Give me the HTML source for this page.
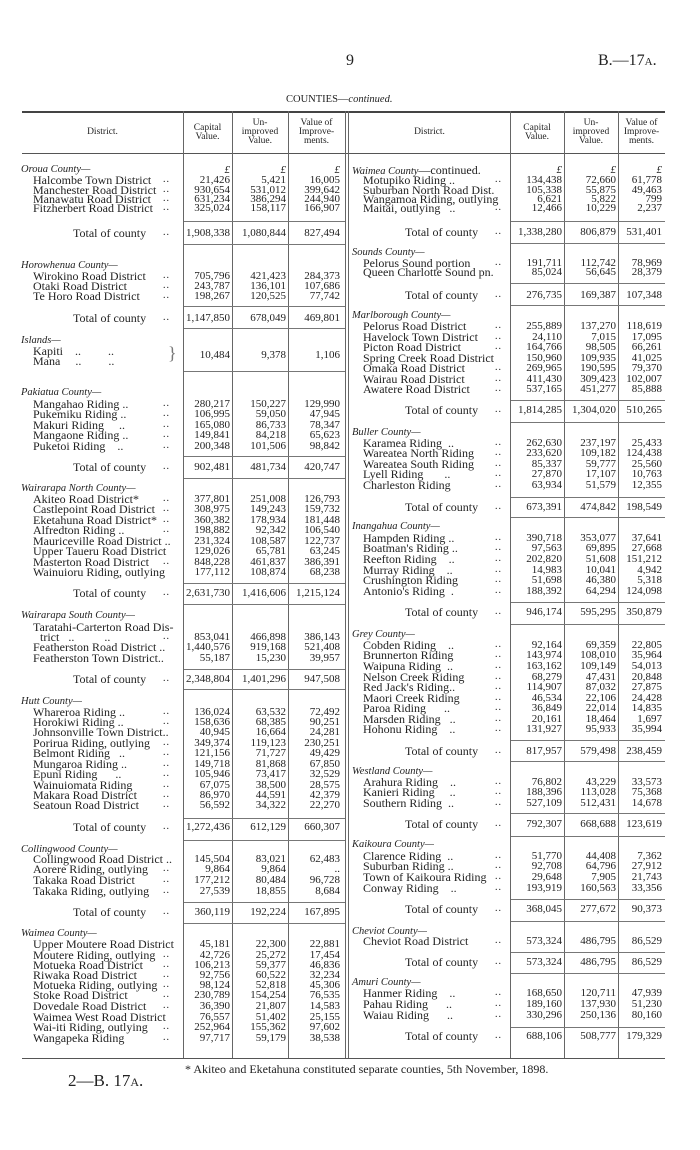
<!DOCTYPE html>
<html><head><meta charset="utf-8"><style>
html,body{margin:0;padding:0;background:#fff;}
body{width:700px;height:1150px;position:relative;overflow:hidden;font-family:"Liberation Serif",serif;color:#222;}
.a{position:absolute;white-space:nowrap;}
p{position:absolute;left:0;width:700px;height:12px;line-height:12px;margin:0;font-size:12px;}
p i{position:absolute;font-style:normal;white-space:nowrap;}
p i.h{font-style:italic;font-size:10.5px;}
p em{position:absolute;font-style:normal;font-size:10px;letter-spacing:1px;}
p b{position:absolute;font-weight:normal;font-size:11px;white-space:nowrap;}
.L i{left:33px}.L i.h{left:21px}.L i.t{left:73px}.L em{left:163px}
.L b:nth-of-type(1){right:470px}.L b:nth-of-type(2){right:414px}.L b:nth-of-type(3){right:360px}
.R i{left:363px}.R i.h{left:352px}.R i.t{left:405px}.R em{left:495px}
.R b:nth-of-type(1){right:138px}.R b:nth-of-type(2){right:84px}.R b:nth-of-type(3){right:38px}
.v{position:absolute;top:111px;height:947px;width:1px;background:#666;}
.hl{position:absolute;height:1px;background:#777;}
.hd{position:absolute;font-size:9.5px;line-height:9px;text-align:center;}
.pd b{font-style:italic;}
</style></head><body>
<div class="a" style="left:346px;top:52px;font-size:16px;">9</div>
<div class="a" style="left:598px;top:52px;font-size:16px;">B.—17<span style="font-size:11px">A</span>.</div>
<div class="a" style="left:286px;top:94px;font-size:10.5px;">COUNTIES—<i>continued.</i></div>

<div class="hl" style="left:22px;width:643px;top:111px;height:1.5px;background:#444"></div>
<div class="hl" style="left:22px;width:643px;top:153px;background:#555"></div>
<div class="hl" style="left:22px;width:643px;top:1058px;background:#555"></div>
<div class="v" style="left:183px"></div><div class="v" style="left:232px"></div><div class="v" style="left:288px"></div>
<div class="v" style="left:345px"></div><div class="v" style="left:348px"></div>
<div class="v" style="left:510px"></div><div class="v" style="left:564px"></div><div class="v" style="left:618px"></div>

<div class="hd" style="left:22px;width:161px;top:128px">District.</div>
<div class="hd" style="left:183px;width:49px;top:124px">Capital<br>Value.</div>
<div class="hd" style="left:232px;width:56px;top:119px">Un-<br>improved<br>Value.</div>
<div class="hd" style="left:288px;width:57px;top:119px">Value of<br>Improve-<br>ments.</div>
<div class="hd" style="left:349px;width:161px;top:128px">District.</div>
<div class="hd" style="left:510px;width:54px;top:124px">Capital<br>Value.</div>
<div class="hd" style="left:564px;width:54px;top:119px">Un-<br>improved<br>Value.</div>
<div class="hd" style="left:618px;width:47px;top:119px">Value of<br>Improve-<br>ments.</div>

<!-- LEFT -->
<div class="L">
<p class="pd" style="top:164px"><i class="h">Oroua County—</i><b>£</b><b>£</b><b>£</b></p>
<p style="top:174px"><i>Halcombe Town District</i><em>..</em><b>21,426</b><b>5,421</b><b>16,005</b></p>
<p style="top:184px"><i>Manchester Road District</i><em>..</em><b>930,654</b><b>531,012</b><b>399,642</b></p>
<p style="top:193px"><i>Manawatu Road District</i><em>..</em><b>631,234</b><b>386,294</b><b>244,940</b></p>
<p style="top:202px"><i>Fitzherbert Road District</i><em>..</em><b>325,024</b><b>158,117</b><b>166,907</b></p>
<div class="hl" style="left:184px;width:161px;top:221px"></div>
<p style="top:227px"><i class="t">Total of county</i><em>..</em><b>1,908,338</b><b>1,080,844</b><b>827,494</b></p>
<div class="hl" style="left:184px;width:161px;top:244px"></div>

<p style="top:260px"><i class="h">Horowhenua County—</i></p>
<p style="top:270px"><i>Wirokino Road District</i><em>..</em><b>705,796</b><b>421,423</b><b>284,373</b></p>
<p style="top:280px"><i>Otaki Road District</i><em>..</em><b>243,787</b><b>136,101</b><b>107,686</b></p>
<p style="top:290px"><i>Te Horo Road District</i><em>..</em><b>198,267</b><b>120,525</b><b>77,742</b></p>
<div class="hl" style="left:184px;width:161px;top:306px"></div>
<p style="top:312px"><i class="t">Total of county</i><em>..</em><b>1,147,850</b><b>678,049</b><b>469,801</b></p>
<div class="hl" style="left:184px;width:161px;top:328px"></div>

<p style="top:335px"><i class="h">Islands—</i></p>
<p style="top:345px"><i>Kapiti&nbsp;&nbsp;&nbsp;&nbsp;..&nbsp;&nbsp;&nbsp;&nbsp;&nbsp;&nbsp;&nbsp;&nbsp;&nbsp;..</i></p>
<p style="top:355px"><i>Mana&nbsp;&nbsp;&nbsp;&nbsp;&nbsp;..&nbsp;&nbsp;&nbsp;&nbsp;&nbsp;&nbsp;&nbsp;&nbsp;&nbsp;..</i></p>
<div class="a" style="left:168px;top:343px;font-size:18px;line-height:20px;color:#777">}</div>
<p style="top:349px"><b>10,484</b><b>9,378</b><b>1,106</b></p>
<div class="hl" style="left:184px;width:161px;top:371px"></div>

<p style="top:387px"><i class="h">Pakiatua County—</i></p>
<p style="top:398px"><i>Mangahao Riding ..</i><em>..</em><b>280,217</b><b>150,227</b><b>129,990</b></p>
<p style="top:408px"><i>Pukemiku Riding ..</i><em>..</em><b>106,995</b><b>59,050</b><b>47,945</b></p>
<p style="top:419px"><i>Makuri Riding&nbsp;&nbsp;&nbsp;&nbsp;&nbsp;..</i><em>..</em><b>165,080</b><b>86,733</b><b>78,347</b></p>
<p style="top:429px"><i>Mangaone Riding ..</i><em>..</em><b>149,841</b><b>84,218</b><b>65,623</b></p>
<p style="top:440px"><i>Puketoi Riding&nbsp;&nbsp;&nbsp;&nbsp;..</i><em>..</em><b>200,348</b><b>101,506</b><b>98,842</b></p>
<div class="hl" style="left:184px;width:161px;top:456px"></div>
<p style="top:461px"><i class="t">Total of county</i><em>..</em><b>902,481</b><b>481,734</b><b>420,747</b></p>
<div class="hl" style="left:184px;width:161px;top:478px"></div>

<p style="top:483px"><i class="h">Wairarapa North County—</i></p>
<p style="top:493px"><i>Akiteo Road District*</i><em>..</em><b>377,801</b><b>251,008</b><b>126,793</b></p>
<p style="top:503px"><i>Castlepoint Road District</i><em>..</em><b>308,975</b><b>149,243</b><b>159,732</b></p>
<p style="top:514px"><i>Eketahuna Road District*</i><em>..</em><b>360,382</b><b>178,934</b><b>181,448</b></p>
<p style="top:524px"><i>Alfredton Riding ..</i><em>..</em><b>198,882</b><b>92,342</b><b>106,540</b></p>
<p style="top:535px"><i>Mauriceville Road District ..</i><b>231,324</b><b>108,587</b><b>122,737</b></p>
<p style="top:545px"><i>Upper Taueru Road District</i><b>129,026</b><b>65,781</b><b>63,245</b></p>
<p style="top:556px"><i>Masterton Road District</i><em>..</em><b>848,228</b><b>461,837</b><b>386,391</b></p>
<p style="top:566px"><i>Wainuioru Riding, outlying</i><b>177,112</b><b>108,874</b><b>68,238</b></p>
<div class="hl" style="left:184px;width:161px;top:583px"></div>
<p style="top:587px"><i class="t">Total of county</i><em>..</em><b>2,631,730</b><b>1,416,606</b><b>1,215,124</b></p>
<div class="hl" style="left:184px;width:161px;top:604px"></div>

<p style="top:610px"><i class="h">Wairarapa South County—</i></p>
<p style="top:621px"><i>Taratahi-Carterton Road Dis-</i></p>
<p style="top:631px"><i style="left:40px">trict&nbsp;&nbsp;&nbsp;..&nbsp;&nbsp;&nbsp;&nbsp;&nbsp;&nbsp;&nbsp;&nbsp;&nbsp;&nbsp;..</i><em>..</em><b>853,041</b><b>466,898</b><b>386,143</b></p>
<p style="top:641px"><i>Featherston Road District ..</i><b>1,440,576</b><b>919,168</b><b>521,408</b></p>
<p style="top:652px"><i>Featherston Town District..</i><b>55,187</b><b>15,230</b><b>39,957</b></p>
<div class="hl" style="left:184px;width:161px;top:669px"></div>
<p style="top:673px"><i class="t">Total of county</i><em>..</em><b>2,348,804</b><b>1,401,296</b><b>947,508</b></p>
<div class="hl" style="left:184px;width:161px;top:689px"></div>

<p style="top:696px"><i class="h">Hutt County—</i></p>
<p style="top:706px"><i>Whareroa Riding ..</i><em>..</em><b>136,024</b><b>63,532</b><b>72,492</b></p>
<p style="top:716px"><i>Horokiwi Riding ..</i><em>..</em><b>158,636</b><b>68,385</b><b>90,251</b></p>
<p style="top:726px"><i>Johnsonville Town District..</i><b>40,945</b><b>16,664</b><b>24,281</b></p>
<p style="top:737px"><i>Porirua Riding, outlying</i><em>..</em><b>349,374</b><b>119,123</b><b>230,251</b></p>
<p style="top:747px"><i>Belmont Riding&nbsp;&nbsp;&nbsp;..</i><em>..</em><b>121,156</b><b>71,727</b><b>49,429</b></p>
<p style="top:758px"><i>Mungaroa Riding ..</i><em>..</em><b>149,718</b><b>81,868</b><b>67,850</b></p>
<p style="top:768px"><i>Epuni Riding&nbsp;&nbsp;&nbsp;&nbsp;&nbsp;&nbsp;..</i><em>..</em><b>105,946</b><b>73,417</b><b>32,529</b></p>
<p style="top:779px"><i>Wainuiomata Riding</i><em>..</em><b>67,075</b><b>38,500</b><b>28,575</b></p>
<p style="top:789px"><i>Makara Road District</i><em>..</em><b>86,970</b><b>44,591</b><b>42,379</b></p>
<p style="top:799px"><i>Seatoun Road District</i><em>..</em><b>56,592</b><b>34,322</b><b>22,270</b></p>
<div class="hl" style="left:184px;width:161px;top:818px"></div>
<p style="top:821px"><i class="t">Total of county</i><em>..</em><b>1,272,436</b><b>612,129</b><b>660,307</b></p>
<div class="hl" style="left:184px;width:161px;top:840px"></div>

<p style="top:844px"><i class="h">Collingwood County—</i></p>
<p style="top:853px"><i>Collingwood Road District ..</i><b>145,504</b><b>83,021</b><b>62,483</b></p>
<p style="top:863px"><i>Aorere Riding, outlying</i><em>..</em><b>9,864</b><b>9,864</b><b>..</b></p>
<p style="top:874px"><i>Takaka Road District</i><em>..</em><b>177,212</b><b>80,484</b><b>96,728</b></p>
<p style="top:885px"><i>Takaka Riding, outlying</i><em>..</em><b>27,539</b><b>18,855</b><b>8,684</b></p>
<div class="hl" style="left:184px;width:161px;top:902px"></div>
<p style="top:906px"><i class="t">Total of county</i><em>..</em><b>360,119</b><b>192,224</b><b>167,895</b></p>
<div class="hl" style="left:184px;width:161px;top:923px"></div>

<p style="top:928px"><i class="h">Waimea County—</i></p>
<p style="top:938px"><i>Upper Moutere Road District</i><b>45,181</b><b>22,300</b><b>22,881</b></p>
<p style="top:949px"><i>Moutere Riding, outlying</i><em>..</em><b>42,726</b><b>25,272</b><b>17,454</b></p>
<p style="top:959px"><i>Motueka Road District</i><em>..</em><b>106,213</b><b>59,377</b><b>46,836</b></p>
<p style="top:969px"><i>Riwaka Road District</i><em>..</em><b>92,756</b><b>60,522</b><b>32,234</b></p>
<p style="top:979px"><i>Motueka Riding, outlying</i><em>..</em><b>98,124</b><b>52,818</b><b>45,306</b></p>
<p style="top:989px"><i>Stoke Road District</i><em>..</em><b>230,789</b><b>154,254</b><b>76,535</b></p>
<p style="top:1000px"><i>Dovedale Road District</i><em>..</em><b>36,390</b><b>21,807</b><b>14,583</b></p>
<p style="top:1011px"><i>Waimea West Road District</i><b>76,557</b><b>51,402</b><b>25,155</b></p>
<p style="top:1021px"><i>Wai-iti Riding, outlying</i><em>..</em><b>252,964</b><b>155,362</b><b>97,602</b></p>
<p style="top:1032px"><i>Wangapeka Riding</i><em>..</em><b>97,717</b><b>59,179</b><b>38,538</b></p>
</div>

<!-- RIGHT -->
<div class="R">
<p class="pd" style="top:164px"><i class="h">Waimea County<span style="font-style:normal;font-size:12px">—continued.</span></i><b>£</b><b>£</b><b>£</b></p>
<p style="top:174px"><i>Motupiko Riding ..</i><em>..</em><b>134,438</b><b>72,660</b><b>61,778</b></p>
<p style="top:184px"><i>Suburban North Road Dist.</i><b>105,338</b><b>55,875</b><b>49,463</b></p>
<p style="top:193px"><i>Wangamoa Riding, outlying</i><b>6,621</b><b>5,822</b><b>799</b></p>
<p style="top:202px"><i>Maitai, outlying&nbsp;&nbsp;&nbsp;..</i><em>..</em><b>12,466</b><b>10,229</b><b>2,237</b></p>
<div class="hl" style="left:511px;width:154px;top:221px"></div>
<p style="top:226px"><i class="t">Total of county</i><em>..</em><b>1,338,280</b><b>806,879</b><b>531,401</b></p>
<div class="hl" style="left:511px;width:154px;top:243px"></div>

<p style="top:247px"><i class="h">Sounds County—</i></p>
<p style="top:257px"><i>Pelorus Sound portion</i><em>..</em><b>191,711</b><b>112,742</b><b>78,969</b></p>
<p style="top:266px"><i>Queen Charlotte Sound pn.</i><b>85,024</b><b>56,645</b><b>28,379</b></p>
<div class="hl" style="left:511px;width:154px;top:283px"></div>
<p style="top:289px"><i class="t">Total of county</i><em>..</em><b>276,735</b><b>169,387</b><b>107,348</b></p>
<div class="hl" style="left:511px;width:154px;top:305px"></div>

<p style="top:310px"><i class="h">Marlborough County—</i></p>
<p style="top:320px"><i>Pelorus Road District</i><em>..</em><b>255,889</b><b>137,270</b><b>118,619</b></p>
<p style="top:331px"><i>Havelock Town District</i><em>..</em><b>24,110</b><b>7,015</b><b>17,095</b></p>
<p style="top:341px"><i>Picton Road District</i><em>..</em><b>164,766</b><b>98,505</b><b>66,261</b></p>
<p style="top:352px"><i>Spring Creek Road District</i><b>150,960</b><b>109,935</b><b>41,025</b></p>
<p style="top:362px"><i>Omaka Road District</i><em>..</em><b>269,965</b><b>190,595</b><b>79,370</b></p>
<p style="top:373px"><i>Wairau Road District</i><em>..</em><b>411,430</b><b>309,423</b><b>102,007</b></p>
<p style="top:383px"><i>Awatere Road District</i><em>..</em><b>537,165</b><b>451,277</b><b>85,888</b></p>
<div class="hl" style="left:511px;width:154px;top:400px"></div>
<p style="top:404px"><i class="t">Total of county</i><em>..</em><b>1,814,285</b><b>1,304,020</b><b>510,265</b></p>
<div class="hl" style="left:511px;width:154px;top:422px"></div>

<p style="top:427px"><i class="h">Buller County—</i></p>
<p style="top:437px"><i>Karamea Riding&nbsp;&nbsp;..</i><em>..</em><b>262,630</b><b>237,197</b><b>25,433</b></p>
<p style="top:447px"><i>Wareatea North Riding</i><em>..</em><b>233,620</b><b>109,182</b><b>124,438</b></p>
<p style="top:458px"><i>Wareatea South Riding</i><em>..</em><b>85,337</b><b>59,777</b><b>25,560</b></p>
<p style="top:468px"><i>Lyell Riding&nbsp;&nbsp;&nbsp;&nbsp;&nbsp;&nbsp;&nbsp;..</i><em>..</em><b>27,870</b><b>17,107</b><b>10,763</b></p>
<p style="top:479px"><i>Charleston Riding</i><em>..</em><b>63,934</b><b>51,579</b><b>12,355</b></p>
<div class="hl" style="left:511px;width:154px;top:497px"></div>
<p style="top:501px"><i class="t">Total of county</i><em>..</em><b>673,391</b><b>474,842</b><b>198,549</b></p>
<div class="hl" style="left:511px;width:154px;top:517px"></div>

<p style="top:521px"><i class="h">Inangahua County—</i></p>
<p style="top:532px"><i>Hampden Riding ..</i><em>..</em><b>390,718</b><b>353,077</b><b>37,641</b></p>
<p style="top:542px"><i>Boatman's Riding ..</i><em>..</em><b>97,563</b><b>69,895</b><b>27,668</b></p>
<p style="top:553px"><i>Reefton Riding&nbsp;&nbsp;&nbsp;&nbsp;..</i><em>..</em><b>202,820</b><b>51,608</b><b>151,212</b></p>
<p style="top:564px"><i>Murray Riding&nbsp;&nbsp;&nbsp;&nbsp;..</i><em>..</em><b>14,983</b><b>10,041</b><b>4,942</b></p>
<p style="top:574px"><i>Crushington Riding</i><em>..</em><b>51,698</b><b>46,380</b><b>5,318</b></p>
<p style="top:585px"><i>Antonio's Riding&nbsp;&nbsp;.</i><em>..</em><b>188,392</b><b>64,294</b><b>124,098</b></p>
<div class="hl" style="left:511px;width:154px;top:602px"></div>
<p style="top:606px"><i class="t">Total of county</i><em>..</em><b>946,174</b><b>595,295</b><b>350,879</b></p>
<div class="hl" style="left:511px;width:154px;top:624px"></div>

<p style="top:629px"><i class="h">Grey County—</i></p>
<p style="top:639px"><i>Cobden Riding&nbsp;&nbsp;&nbsp;&nbsp;..</i><em>..</em><b>92,164</b><b>69,359</b><b>22,805</b></p>
<p style="top:649px"><i>Brunnerton Riding</i><em>..</em><b>143,974</b><b>108,010</b><b>35,964</b></p>
<p style="top:660px"><i>Waipuna Riding&nbsp;&nbsp;..</i><em>..</em><b>163,162</b><b>109,149</b><b>54,013</b></p>
<p style="top:671px"><i>Nelson Creek Riding</i><em>..</em><b>68,279</b><b>47,431</b><b>20,848</b></p>
<p style="top:681px"><i>Red Jack's Riding..</i><em>..</em><b>114,907</b><b>87,032</b><b>27,875</b></p>
<p style="top:692px"><i>Maori Creek Riding</i><em>..</em><b>46,534</b><b>22,106</b><b>24,428</b></p>
<p style="top:702px"><i>Paroa Riding&nbsp;&nbsp;&nbsp;&nbsp;&nbsp;&nbsp;..</i><em>..</em><b>36,849</b><b>22,014</b><b>14,835</b></p>
<p style="top:713px"><i>Marsden Riding&nbsp;&nbsp;&nbsp;..</i><em>..</em><b>20,161</b><b>18,464</b><b>1,697</b></p>
<p style="top:723px"><i>Hohonu Riding&nbsp;&nbsp;&nbsp;&nbsp;..</i><em>..</em><b>131,927</b><b>95,933</b><b>35,994</b></p>
<div class="hl" style="left:511px;width:154px;top:740px"></div>
<p style="top:745px"><i class="t">Total of county</i><em>..</em><b>817,957</b><b>579,498</b><b>238,459</b></p>
<div class="hl" style="left:511px;width:154px;top:761px"></div>

<p style="top:766px"><i class="h">Westland County—</i></p>
<p style="top:776px"><i>Arahura Riding&nbsp;&nbsp;&nbsp;&nbsp;..</i><em>..</em><b>76,802</b><b>43,229</b><b>33,573</b></p>
<p style="top:786px"><i>Kanieri Riding&nbsp;&nbsp;&nbsp;&nbsp;&nbsp;..</i><em>..</em><b>188,396</b><b>113,028</b><b>75,368</b></p>
<p style="top:797px"><i>Southern Riding&nbsp;&nbsp;..</i><em>..</em><b>527,109</b><b>512,431</b><b>14,678</b></p>
<div class="hl" style="left:511px;width:154px;top:813px"></div>
<p style="top:818px"><i class="t">Total of county</i><em>..</em><b>792,307</b><b>668,688</b><b>123,619</b></p>
<div class="hl" style="left:511px;width:154px;top:836px"></div>

<p style="top:839px"><i class="h">Kaikoura County—</i></p>
<p style="top:850px"><i>Clarence Riding&nbsp;&nbsp;..</i><em>..</em><b>51,770</b><b>44,408</b><b>7,362</b></p>
<p style="top:860px"><i>Suburban Riding ..</i><em>..</em><b>92,708</b><b>64,796</b><b>27,912</b></p>
<p style="top:871px"><i>Town of Kaikoura Riding</i><em>..</em><b>29,648</b><b>7,905</b><b>21,743</b></p>
<p style="top:882px"><i>Conway Riding&nbsp;&nbsp;&nbsp;&nbsp;..</i><em>..</em><b>193,919</b><b>160,563</b><b>33,356</b></p>
<div class="hl" style="left:511px;width:154px;top:899px"></div>
<p style="top:903px"><i class="t">Total of county</i><em>..</em><b>368,045</b><b>277,672</b><b>90,373</b></p>
<div class="hl" style="left:511px;width:154px;top:921px"></div>

<p style="top:926px"><i class="h">Cheviot County—</i></p>
<p style="top:935px"><i>Cheviot Road District</i><em>..</em><b>573,324</b><b>486,795</b><b>86,529</b></p>
<div class="hl" style="left:511px;width:154px;top:952px"></div>
<p style="top:956px"><i class="t">Total of county</i><em>..</em><b>573,324</b><b>486,795</b><b>86,529</b></p>
<div class="hl" style="left:511px;width:154px;top:973px"></div>

<p style="top:977px"><i class="h">Amuri County—</i></p>
<p style="top:987px"><i>Hanmer Riding&nbsp;&nbsp;&nbsp;&nbsp;..</i><em>..</em><b>168,650</b><b>120,711</b><b>47,939</b></p>
<p style="top:998px"><i>Pahau Riding&nbsp;&nbsp;&nbsp;&nbsp;&nbsp;&nbsp;..</i><em>..</em><b>189,160</b><b>137,930</b><b>51,230</b></p>
<p style="top:1009px"><i>Waiau Riding&nbsp;&nbsp;&nbsp;&nbsp;&nbsp;&nbsp;..</i><em>..</em><b>330,296</b><b>250,136</b><b>80,160</b></p>
<div class="hl" style="left:511px;width:154px;top:1027px"></div>
<p style="top:1030px"><i class="t">Total of county</i><em>..</em><b>688,106</b><b>508,777</b><b>179,329</b></p>
</div>

<div class="a" style="left:185px;top:1062px;font-size:12px;">* Akiteo and Eketahuna constituted separate counties, 5th November, 1898.</div>
<div class="a" style="left:68px;top:1071px;font-size:17px;">2—B. 17<span style="font-size:12px">A</span>.</div>
</body></html>
